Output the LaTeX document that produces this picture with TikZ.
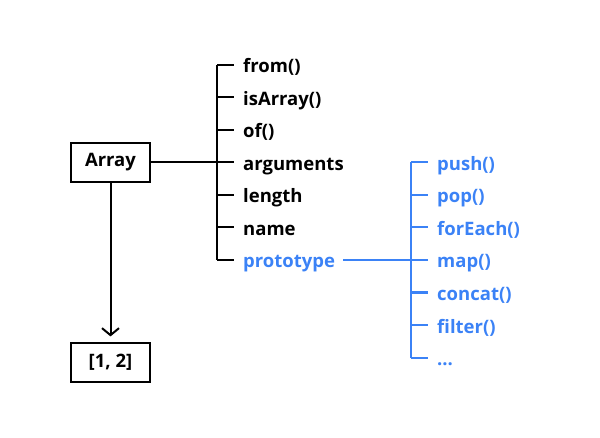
\documentclass[tikz,border=0pt]{standalone}
\usepackage{fontspec}
\setmainfont{Open Sans}
\usetikzlibrary{arrows.meta}
\definecolor{protoblue}{RGB}{59,130,246}
\newcommand\moredots{...}
\tikzset{
  objbox/.style={rectangle,draw=black,line width=1.1pt,minimum width=79pt,minimum height=39pt,inner sep=0pt,font=\fontsize{18.5}{20}\selectfont\bfseries},
  member/.style={inner sep=0pt,anchor=base west,font=\fontsize{18.5}{20}\selectfont\bfseries},
  tree/.style={line width=2pt},
}
\begin{document}
\begin{tikzpicture}[x=1pt,y=1pt]
\useasboundingbox (0,0) rectangle (600,437);
% the constructor and an instance
\node[objbox] (array) at (110.5,274.5) {Array};
\node[objbox] (inst)  at (110.5,74.5)  {[1, 2]};

% static members, one row each
\foreach \i/\text/\col in {1/from()/black, 2/isArray()/black, 3/of()/black,
                           4/arguments/black, 5/length/black, 6/name/black,
                           7/prototype/protoblue}
{
    \coordinate (b-\i) at (217,{372-32.5*(\i-1)});
    \node[member,text=\col] (m-\i) at ([yshift=-8pt]b-\i -| 243,0) {\text};
}

% prototype members
\foreach \i/\text in {1/push(), 2/pop(), 3/forEach(), 4/map(),
                      5/concat(), 6/filter(), 7/\moredots}
{
    \coordinate (c-\i) at (411,{274.5-32.5*(\i-1)});
    \node[member,text=protoblue] (p-\i) at ([yshift=-8pt]c-\i -| 437,0) {\text};
}

% brackets
\draw[tree] (b-1) -- (b-7);
\foreach \i in {1,...,7}
    \draw[tree,shorten >=9pt] (b-\i) -- (b-\i -| m-\i.west);
\draw[tree,protoblue] (c-1) -- (c-7);
\foreach \i in {1,...,7}
    \draw[tree,protoblue,shorten >=9pt] (c-\i) -- (c-\i -| p-\i.west);

% links
\draw[tree] (array.east) -- (b-4);
\draw[tree,protoblue,shorten <=8pt] (m-7.east |- b-7) -- (c-4);
\draw[tree,-{Straight Barb[length=7pt,width=17pt]},shorten >=6pt] (array) -- (inst);
\end{tikzpicture}
\end{document}
